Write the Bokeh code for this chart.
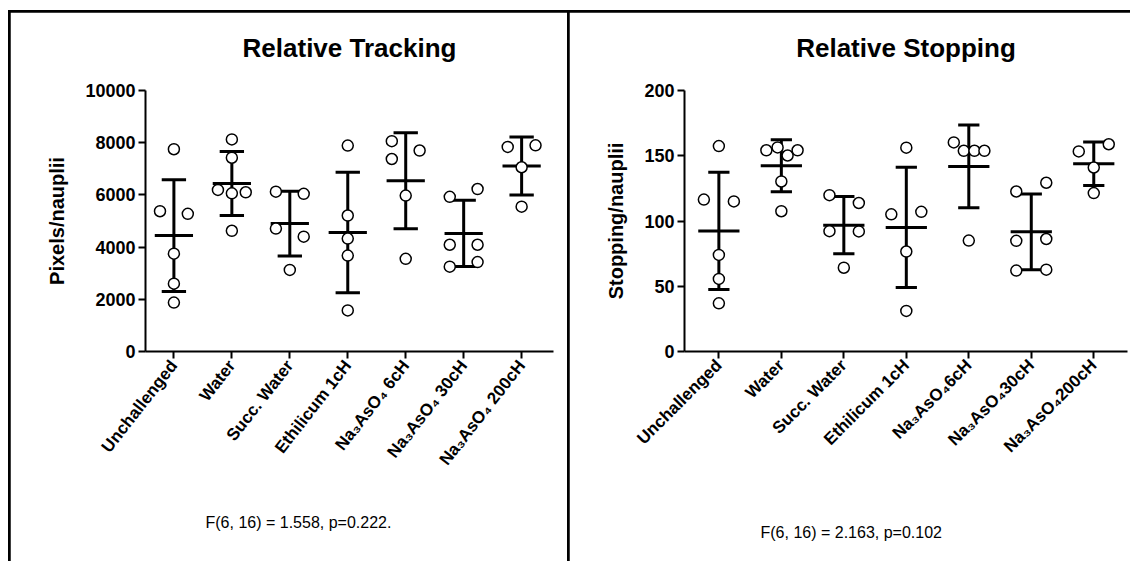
import numpy as np
from bokeh.plotting import figure
from bokeh.models import FixedTicker, Range1d, LinearAxis, Title
from bokeh.layouts import row
from bokeh.embed import file_html
from bokeh.resources import INLINE

FONT = "Liberation Sans"

# ---------------- data ----------------
tracking_categories = ["Unchallenged", "Water", "Succ. Water", "Ethilicum 1cH",
                       "Na₃AsO₄ 6cH", "Na₃AsO₄ 30cH", "Na₃AsO₄ 200cH"]
stopping_categories = ["Unchallenged", "Water", "Succ. Water", "Ethilicum 1cH",
                       "Na₃AsO₄6cH", "Na₃AsO₄30cH", "Na₃AsO₄200cH"]

tracking_points = [
    [7750, 5375, 5275, 3750, 2600, 1875],
    [8125, 7425, 6190, 6060, 6100, 4625],
    [6125, 6040, 4710, 4400, 3125],
    [7890, 5210, 4325, 3675, 1575],
    [8060, 7375, 7700, 5975, 3550],
    [5925, 6225, 4090, 4090, 3250, 3425],
    [7840, 7900, 7060, 5550],
]
tracking_mean = [4440, 6440, 4900, 4560, 6540, 4525, 7110]
tracking_sd = [2137, 1225, 1237, 2307, 1840, 1270, 1110]
tracking_ticks = [0, 2000, 4000, 6000, 8000, 10000]

stopping_points = [
    [157.4, 116.4, 115.0, 74.0, 55.6, 36.9],
    [154.2, 156.4, 150.2, 154.2, 130.3, 107.5],
    [119.8, 113.8, 92.2, 92.0, 64.2],
    [156.2, 105.1, 107.0, 76.6, 31.1],
    [160.2, 153.8, 153.8, 153.8, 85.0],
    [122.6, 129.3, 84.8, 86.2, 62.0, 62.7],
    [153.3, 158.8, 141.0, 121.4],
]
stopping_mean = [92.4, 142.3, 96.8, 95.1, 141.8, 91.7, 143.9]
stopping_sd = [44.9, 19.9, 21.9, 46.0, 31.7, 29.0, 16.7]
stopping_ticks = [0, 50, 100, 150, 200]

# horizontal scatter offsets of the points (layout only, in category units)
tracking_jitter = [
    [0, -0.24, 0.24, 0, 0, 0],
    [0, 0, -0.24, 0, 0.24, 0],
    [-0.24, 0.24, -0.24, 0.24, 0],
    [0, 0, 0, 0, 0],
    [-0.24, -0.24, 0.24, 0, 0],
    [-0.24, 0.24, -0.24, 0.24, -0.24, 0.24],
    [-0.24, 0.24, 0, 0],
]
stopping_jitter = [
    [0, -0.24, 0.24, 0, 0, 0],
    [-0.24, -0.06, 0.1, 0.26, 0, 0],
    [-0.23, 0.24, -0.23, 0.24, 0],
    [0, -0.24, 0.24, 0, 0],
    [-0.24, -0.08, 0.09, 0.25, 0],
    [-0.24, 0.24, -0.24, 0.24, -0.24, 0.24],
    [-0.24, 0.24, 0, 0],
]


def bare_axis(label, size="16px", style="normal", standoff=0, color="black"):
    """An axis with no visible line, ticks or tick labels (carries a text or a gap)."""
    return LinearAxis(axis_label=label, axis_label_standoff=standoff,
                      axis_label_text_font=FONT,
                      axis_label_text_font_style=style,
                      axis_label_text_font_size=size,
                      axis_label_text_color=color,
                      axis_line_color=None, major_tick_line_color=None,
                      minor_tick_line_color=None, major_tick_out=0,
                      major_tick_in=0, major_label_standoff=0,
                      major_label_text_font_size="0px",
                      ticker=FixedTicker(ticks=[]))


def build(cats, pts, jit, mean, sd, ticks, ylabel, title, stat,
          width, xr, borders, cap, ylabel_standoff,
          title_standoff, stat_gap, stat_offset, label_angle):
    left, right, top, bottom = borders
    p = figure(width=width, height=549, x_range=Range1d(*xr),
               y_range=Range1d(ticks[0], ticks[-1]),
               output_backend="svg", toolbar_location=None,
               min_border_left=left, min_border_right=right,
               min_border_top=top, min_border_bottom=bottom,
               background_fill_color="white", border_fill_color="white")
    p.xgrid.grid_line_color = None
    p.ygrid.grid_line_color = None
    p.outline_line_color = "white"
    p.outline_line_alpha = 1
    p.outline_line_width = 3

    n = len(cats)
    xs, ys = [], []
    for i in range(n):
        for v, j in zip(pts[i], jit[i]):
            xs.append(i + j)
            ys.append(v)
    idx = np.arange(n)
    mean = np.array(mean, dtype=float)
    sd = np.array(sd, dtype=float)

    # error bars (mean ± SD)
    p.segment(x0=idx, x1=idx, y0=mean - sd, y1=mean + sd,
              line_color="black", line_width=3)
    p.segment(x0=idx - cap, x1=idx + cap, y0=mean + sd, y1=mean + sd,
              line_color="black", line_width=3)
    p.segment(x0=idx - cap, x1=idx + cap, y0=mean - sd, y1=mean - sd,
              line_color="black", line_width=3)
    # means
    p.segment(x0=idx - 0.33, x1=idx + 0.33, y0=mean, y1=mean,
              line_color="black", line_width=3)
    # points
    p.scatter(xs, ys, marker="circle", size=11, fill_color="white",
              line_color="black", line_width=1.5)

    # axes
    xax = p.below[0]
    yax = p.left[0]
    xax.ticker = FixedTicker(ticks=list(range(n)))
    xax.major_label_overrides = {i: c for i, c in enumerate(cats)}
    xax.major_label_orientation = label_angle
    yax.ticker = FixedTicker(ticks=ticks)
    for ax in (xax, yax):
        ax.axis_line_width = 2
        ax.axis_line_color = "black"
        ax.major_tick_line_width = 2
        ax.major_tick_line_color = "black"
        ax.major_tick_in = 0
        ax.major_tick_out = 7
        ax.minor_tick_line_color = None
        ax.major_label_text_font = FONT
        ax.major_label_text_font_style = "bold"
        ax.major_label_text_color = "black"
    xax.major_label_text_font_size = "17px"
    xax.major_label_standoff = 4
    yax.major_label_text_font_size = "18px"
    yax.major_label_standoff = 3
    yax.axis_label = ylabel
    yax.axis_label_text_font = FONT
    yax.axis_label_text_font_style = "bold"
    yax.axis_label_text_font_size = "20px"
    yax.axis_label_text_color = "black"
    yax.axis_label_standoff = ylabel_standoff

    # chart title above the frame
    p.add_layout(bare_axis(title, "26px", "bold", title_standoff), "above")
    # blank gap below the category labels, then the statistics line
    p.add_layout(bare_axis(" ", "16px", "normal", stat_gap, color="white"), "below")
    p.add_layout(Title(text=stat, align="left", offset=stat_offset,
                       standoff=10, text_font=FONT, text_font_style="normal",
                       text_font_size="16px", text_color="black"), "below")
    return p


p1 = build(tracking_categories, tracking_points, tracking_jitter,
           tracking_mean, tracking_sd, tracking_ticks,
           "Pixels/nauplii", "Relative Tracking", "F(6, 16) = 1.558, p=0.222.",
           width=557, xr=(-0.49, 6.55), borders=(135, 14, 74, 210), cap=0.21,
           ylabel_standoff=14, title_standoff=28, stat_gap=9,
           stat_offset=60, label_angle=np.deg2rad(52))
p2 = build(stopping_categories, stopping_points, stopping_jitter,
           stopping_mean, stopping_sd, stopping_ticks,
           "Stopping/nauplii", "Relative Stopping", "F(6, 16) = 2.163, p=0.102",
           width=561, xr=(-0.55, 6.54), borders=(115, 3, 78, 198), cap=0.17,
           ylabel_standoff=14, title_standoff=28, stat_gap=31,
           stat_offset=76, label_angle=np.deg2rad(45))

p1.margin = (2, 0, 0, 2)
p2.margin = (2, 0, 0, 2)
layout = row(p1, p2, margin=(10, 0, 0, 8), styles={"background-color": "black"})

open("out.html", "w").write(file_html(layout, INLINE))
